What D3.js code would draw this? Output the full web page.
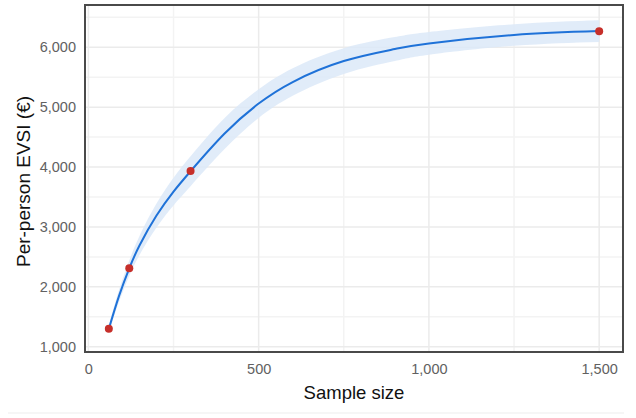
<!DOCTYPE html>
<html>
<head>
<meta charset="utf-8">
<script src="https://cdn.jsdelivr.net/npm/d3@7"></script>
<style>
  body { margin: 0; background: #fff; }
  svg { display: block; font-family: "Liberation Sans", Arial, sans-serif; }
</style>
</head>
<body>
<div class="usable"></div>
<script>
// simulated sample sizes with their EVSI estimates
const sampleSizes = [60, 120, 300, 1500];
const evsiValues = [1300, 2310, 3935, 6268];

// fitted curve
const fitN = [60, 90, 120, 150, 200, 250, 300, 400, 500, 600, 750, 900, 1000, 1250, 1500];
const fitEvsi = [1300, 1850, 2310, 2690, 3190, 3590, 3930, 4560, 5060, 5420, 5770, 5970, 6065, 6205, 6270];
const fitLow = [1240, 1750, 2180, 2530, 2990, 3360, 3680, 4300, 4820, 5190, 5555, 5770, 5875, 6025, 6090];
const fitHigh = [1360, 1950, 2440, 2850, 3390, 3820, 4180, 4820, 5300, 5650, 5985, 6170, 6255, 6385, 6450];

const xTicks = [0, 500, 1000, 1500];
const xMinor = [250, 750, 1250];
const yTicks = [1000, 2000, 3000, 4000, 5000, 6000];
const yMinor = [1500, 2500, 3500, 4500, 5500, 6500];

const width = 636, height = 418;
const m = { top: 5, right: 13, bottom: 66, left: 85 };

let svg = d3.select(".usable").append("svg")
    .attr("width", width)
    .attr("height", height);

let x = d3.scaleLinear().domain([-10, 1570]).range([m.left, width - m.right]);
let y = d3.scaleLinear().domain([912, 6706]).range([height - m.bottom, m.top]);

// grid
let grid = svg.append("g");
grid.selectAll(".xminor").data(xMinor).join("line")
    .attr("x1", d => x(d)).attr("x2", d => x(d))
    .attr("y1", m.top).attr("y2", height - m.bottom)
    .attr("stroke", "#f3f3f3").attr("stroke-width", 1.5);
grid.selectAll(".yminor").data(yMinor).join("line")
    .attr("x1", m.left).attr("x2", width - m.right)
    .attr("y1", d => y(d)).attr("y2", d => y(d))
    .attr("stroke", "#f3f3f3").attr("stroke-width", 1.5);
grid.selectAll(".xmajor").data(xTicks).join("line")
    .attr("x1", d => x(d)).attr("x2", d => x(d))
    .attr("y1", m.top).attr("y2", height - m.bottom)
    .attr("stroke", "#ebebeb").attr("stroke-width", 1.5);
grid.selectAll(".ymajor").data(yTicks).join("line")
    .attr("x1", m.left).attr("x2", width - m.right)
    .attr("y1", d => y(d)).attr("y2", d => y(d))
    .attr("stroke", "#ebebeb").attr("stroke-width", 1.5);

let fit = fitN.map((n, i) => ({ n: n, v: fitEvsi[i], lo: fitLow[i], hi: fitHigh[i] }));

// confidence band
svg.append("path")
    .datum(fit)
    .attr("fill", "#dce9f8")
    .attr("opacity", 0.85)
    .attr("d", d3.area()
        .x(d => x(d.n))
        .y0(d => y(d.lo))
        .y1(d => y(d.hi))
        .curve(d3.curveNatural));

// fitted line
svg.append("path")
    .datum(fit)
    .attr("fill", "none")
    .attr("stroke", "#1f72d8")
    .attr("stroke-width", 2)
    .attr("d", d3.line()
        .x(d => x(d.n))
        .y(d => y(d.v))
        .curve(d3.curveNatural));

// points
svg.selectAll(".pt").data(sampleSizes).join("circle")
    .attr("cx", d => x(d))
    .attr("cy", (d, i) => y(evsiValues[i]))
    .attr("r", 4)
    .attr("fill", "#c62f2a");

// panel border
svg.append("rect")
    .attr("x", m.left).attr("y", m.top)
    .attr("width", width - m.left - m.right)
    .attr("height", height - m.top - m.bottom)
    .attr("fill", "none")
    .attr("stroke", "#4a4a4a")
    .attr("stroke-width", 2);

// axes
let fmt = d3.format(",");
let xAxis = svg.append("g")
    .attr("transform", `translate(0,${height - m.bottom})`)
    .call(d3.axisBottom(x).tickValues(xTicks).tickFormat(fmt).tickSize(0).tickPadding(12));
let yAxis = svg.append("g")
    .attr("transform", `translate(${m.left},0)`)
    .call(d3.axisLeft(y).tickValues(yTicks).tickFormat(fmt).tickSize(0).tickPadding(9));
[xAxis, yAxis].forEach(a => {
    a.select(".domain").remove();
    a.selectAll("text")
        .attr("font-family", "Liberation Sans, Arial, sans-serif")
        .attr("font-size", 14.5)
        .attr("fill", "#616161");
});

// titles
svg.append("text")
    .attr("x", (m.left + width - m.right) / 2)
    .attr("y", 399)
    .attr("text-anchor", "middle")
    .attr("font-size", 18.5)
    .attr("fill", "#111")
    .text("Sample size");

svg.append("text")
    .attr("transform", `translate(30,${(m.top + height - m.bottom) / 2 + 3}) rotate(-90)`)
    .attr("text-anchor", "middle")
    .attr("font-size", 19)
    .attr("fill", "#111")
    .text("Per-person EVSI (€)");

// faint rule under the chart
svg.append("line")
    .attr("x1", 8).attr("x2", 624)
    .attr("y1", 413).attr("y2", 413)
    .attr("stroke", "#f3f3f3").attr("stroke-width", 1.5);
</script>
</body>
</html>
